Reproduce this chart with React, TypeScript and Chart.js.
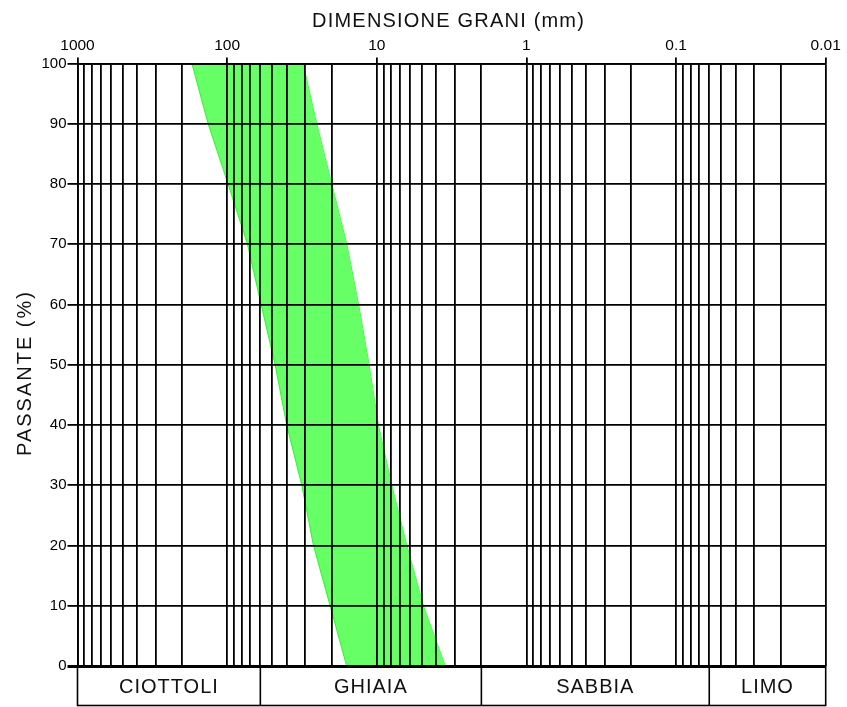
import React, { useEffect, useRef } from 'react';
import { Chart, registerables } from 'chart.js';

Chart.register(...registerables);

// ---- data ----
const PASSING = [0, 10, 20, 30, 40, 50, 60, 70, 80, 90, 100];
const COARSE_MM = [15.9, 20.5, 26.5, 31.7, 40.0, 47.8, 59.3, 73.1, 98.6, 134, 172];
const FINE_MM = [3.49, 4.88, 6.3, 7.94, 9.76, 11.26, 13.24, 15.87, 20.0, 25.2, 31.1];

const X_MAJOR = [1000, 100, 10, 1, 0.1, 0.01];
const X_TICK_LABELS = ['1000', '100', '10', '1', '0.1', '0.01'];
const MULTIPLIERS = [1, 2, 3, 4, 5, 6, 7, 8, 9];
const DECADE_EXPONENTS = [-2, -1, 0, 1, 2];

const CLASS_NAMES = ['CIOTTOLI', 'GHIAIA', 'SABBIA', 'LIMO'];
const CLASS_LIMITS = [1000, 60, 2, 0.06, 0.01];

const X_TITLE = 'DIMENSIONE GRANI (mm)';
const Y_TITLE = 'PASSANTE (%)';

const FONT = '"Liberation Sans", Arial, sans-serif';

const GRID_VALUES: number[] = [];
DECADE_EXPONENTS.forEach((e) => {
  MULTIPLIERS.forEach((m) => {
    GRID_VALUES.push(Number((m * Math.pow(10, e)).toPrecision(6)));
  });
});
GRID_VALUES.push(1000);

const majorIndex = (v: number) =>
  X_MAJOR.findIndex((m) => Math.abs(Math.log10(v) - Math.log10(m)) < 1e-6);

const decorPlugin = {
  id: 'decor',
  afterDraw(chart: any) {
    const ctx = chart.ctx as CanvasRenderingContext2D;
    const area = chart.chartArea;
    const xs = chart.scales.x;
    ctx.save();
    // x title
    ctx.fillStyle = '#111';
    ctx.font = `20px ${FONT}`;
    (ctx as any).letterSpacing = '1.2px';
    ctx.textAlign = 'center';
    ctx.textBaseline = 'alphabetic';
    ctx.fillText(X_TITLE, (area.left + area.right) / 2 - 3, 27);
    // y title
    ctx.save();
    (ctx as any).letterSpacing = '2px';
    ctx.translate(31, 373);
    ctx.rotate(-Math.PI / 2);
    ctx.fillText(Y_TITLE, 0, 0);
    ctx.restore();

    // table
    const top = area.bottom;
    const bottom = 705.5;
    ctx.strokeStyle = '#000';
    ctx.lineWidth = 1.6;
    ctx.strokeRect(area.left, top, area.right - area.left, bottom - top);
    ctx.font = `20px ${FONT}`;
    (ctx as any).letterSpacing = '1px';
    ctx.textBaseline = 'middle';
    for (let i = 0; i < CLASS_NAMES.length; i++) {
      const x0 = xs.getPixelForValue(CLASS_LIMITS[i]);
      const x1 = xs.getPixelForValue(CLASS_LIMITS[i + 1]);
      if (i > 0) {
        ctx.beginPath();
        ctx.moveTo(x0, top);
        ctx.lineTo(x0, bottom);
        ctx.stroke();
      }
      ctx.fillText(CLASS_NAMES[i], (x0 + x1) / 2, (top + bottom) / 2 + 1.5);
    }
    ctx.restore();
  },
};

export default function App() {
  const ref = useRef<HTMLCanvasElement | null>(null);

  useEffect(() => {
    if (!ref.current) return;
    const chart = new Chart(ref.current, {
      type: 'line',
      data: {
        datasets: [
          {
            data: PASSING.map((p, i) => ({ x: COARSE_MM[i], y: p })),
            borderColor: '#33f233',
            borderWidth: 1,
            backgroundColor: '#66ff66',
            fill: '+1',
            pointRadius: 0,
            tension: 0,
          },
          {
            data: PASSING.map((p, i) => ({ x: FINE_MM[i], y: p })),
            borderColor: '#33f233',
            borderWidth: 1,
            fill: false,
            pointRadius: 0,
            tension: 0,
          },
        ],
      },
      options: {
        indexAxis: 'y',
        animation: false,
        responsive: true,
        maintainAspectRatio: false,
        layout: { padding: { left: 0, top: 0, right: 21.3, bottom: 41 } },
        plugins: {
          legend: { display: false },
          tooltip: { enabled: false },
          title: { display: false },
        },
        scales: {
          x: {
            type: 'logarithmic',
            position: 'top',
            reverse: true,
            min: 0.01,
            max: 1000,
            afterBuildTicks: (s: any) => {
              s.ticks = GRID_VALUES.map((v) => ({ value: v }));
            },
            afterFit: (s: any) => {
              s.height = 63.5;
            },
            ticks: {
              autoSkip: false,
              maxRotation: 0,
              minRotation: 0,
              padding: 2,
              color: '#000',
              font: { family: FONT, size: 15.5 },
              callback: (v: any) => {
                const i = majorIndex(Number(v));
                return i >= 0 ? X_TICK_LABELS[i] : '';
              },
            },
            grid: {
              z: 1,
              color: '#000',
              lineWidth: 1.8,
              tickLength: 6,
              tickColor: (c: any) =>
                c.tick && majorIndex(c.tick.value) >= 0 ? '#000' : 'rgba(0,0,0,0)',
            },
            border: { display: true, color: '#000', width: 1.8, z: 1 },
          },
          y: {
            type: 'linear',
            position: 'left',
            min: 0,
            max: 100,
            afterFit: (s: any) => {
              s.width = 77.5;
            },
            ticks: {
              stepSize: 10,
              padding: 1,
              color: '#000',
              font: { family: FONT, size: 15 },
            },
            grid: {
              z: 1,
              color: '#000',
              lineWidth: (c: any) => (c.tick && c.tick.value === 0 ? 3 : 1.8),
              tickLength: 10,
            },
            border: { display: true, color: '#000', width: 1.8, z: 1 },
          },
        },
      } as any,
      plugins: [decorPlugin],
    });
    return () => chart.destroy();
  }, []);

  return (
    <div style={{ position: 'absolute', left: 0, top: 0, width: 847, height: 707, background: '#fff' }}>
      <canvas ref={ref} />
    </div>
  );
}
